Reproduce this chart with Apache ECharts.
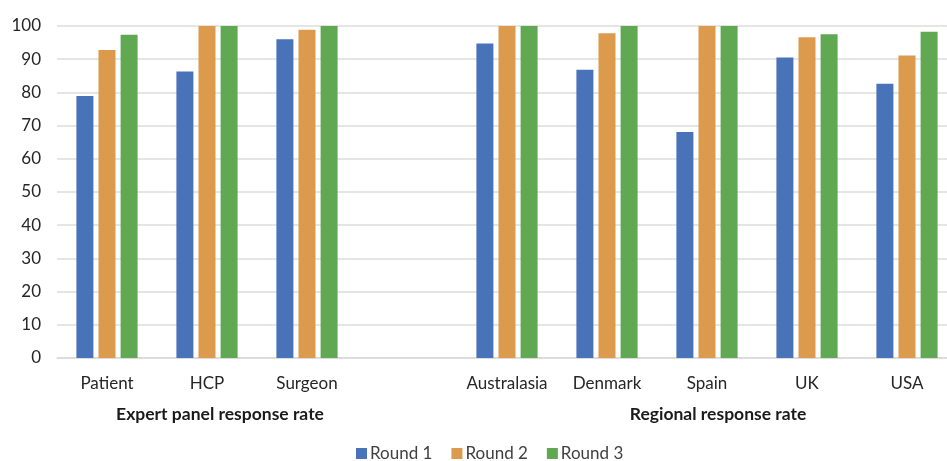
<!DOCTYPE html>
<html>
<head>
<meta charset="utf-8">
<script src="https://cdn.jsdelivr.net/npm/echarts@6/dist/echarts.min.js"></script>
<style>
html,body{margin:0;padding:0;background:#fff;overflow:hidden;width:947px;height:461px;}
#chart{width:957px;height:461px;}
</style>
</head>
<body>
<div id="chart"></div>
<script>
const categories = ['Patient', 'HCP', 'Surgeon', '', 'Australasia', 'Denmark', 'Spain', 'UK', 'USA'];
const round1 = [78.9, 86.3, 96.0, null, 94.7, 86.8, 68.1, 90.5, 82.6];
const round2 = [92.8, 100, 98.9, null, 100, 97.8, 100, 96.6, 91.1];
const round3 = [97.4, 100, 100, null, 100, 100, 100, 97.5, 98.3];
const seriesNames = ['Round 1', 'Round 2', 'Round 3'];
const groupLabels = ['Expert panel response rate', 'Regional response rate'];
const yTicks = {min: 0, max: 100, interval: 10};

const font = 'Lato, "Open Sans", sans-serif';
const colors = ['#4873b8', '#dc9a4c', '#60a852'];
const chart = echarts.init(document.getElementById('chart'));
const mk = (name, data, i) => ({
  name, type: 'bar', data, barWidth: 17, barGap: '30%',
  itemStyle: {color: colors[i]}
});
chart.setOption({
  animation: false,
  textStyle: {fontFamily: font},
  grid: {left: 57, top: 26, right: 0, height: 332, containLabel: false},
  legend: {
    top: 440, left: 351, itemWidth: 11, itemHeight: 11, itemGap: 19,
    icon: 'rect',
    textStyle: {fontSize: 17, color: '#404040', fontFamily: font, padding: [0, 0, 0, -2]},
    data: seriesNames
  },
  xAxis: {
    type: 'category', data: categories,
    axisLine: {lineStyle: {color: '#d9d9d9', width: 1.5}},
    axisTick: {show: false},
    axisLabel: {fontSize: 17, color: '#262626', margin: 17, interval: 0, fontFamily: font}
  },
  yAxis: {
    type: 'value', min: yTicks.min, max: yTicks.max, interval: yTicks.interval,
    axisLine: {show: false}, axisTick: {show: false},
    splitLine: {lineStyle: {color: '#dcdcdc', width: 1.5}},
    axisLabel: {fontSize: 17, color: '#262626', margin: 16, fontFamily: font}
  },
  graphic: [
    {type: 'text', x: 220, y: 405, style: {text: groupLabels[0], textAlign: 'center', font: 'bold 17.5px ' + font, fill: '#1a1a1a'}},
    {type: 'text', x: 718, y: 405, style: {text: groupLabels[1], textAlign: 'center', font: 'bold 17.5px ' + font, fill: '#1a1a1a'}}
  ],
  series: [mk(seriesNames[0], round1, 0), mk(seriesNames[1], round2, 1), mk(seriesNames[2], round3, 2)]
});
</script>
</body>
</html>
